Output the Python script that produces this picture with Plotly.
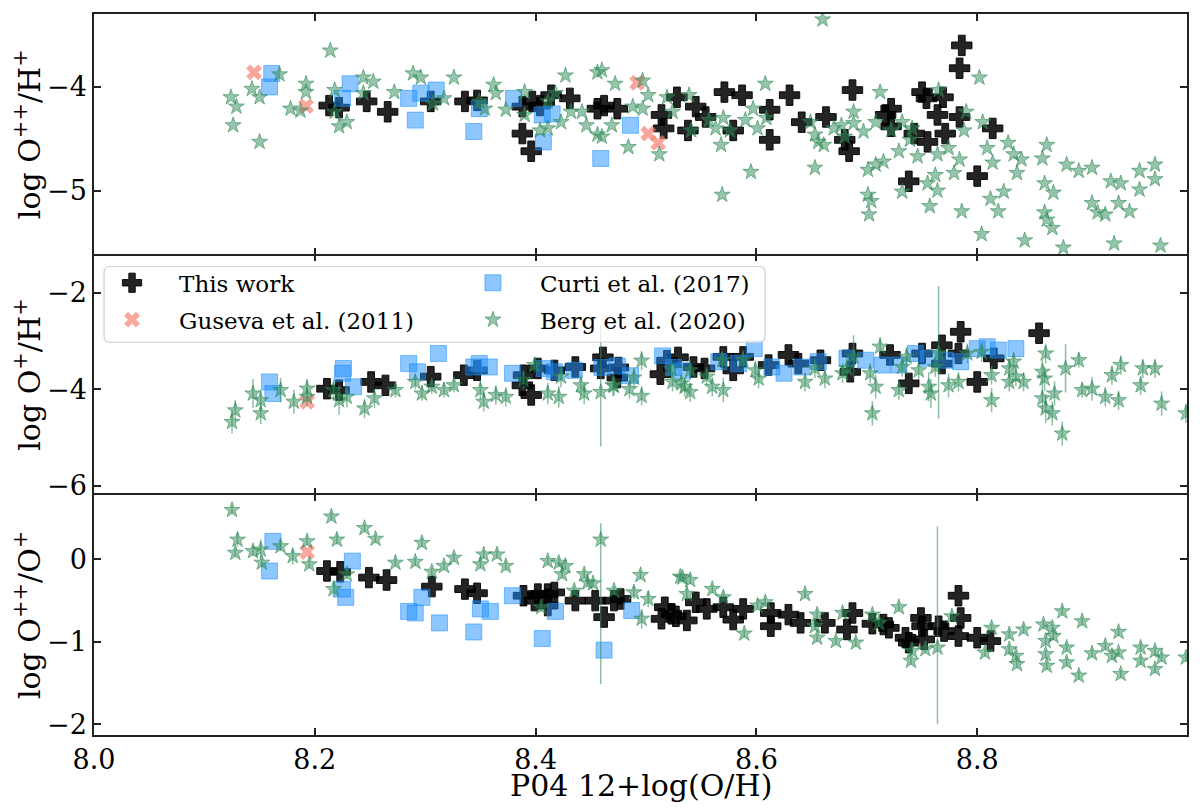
import plotly.graph_objects as go
from plotly.subplots import make_subplots

FONT = "DejaVu Serif, Liberation Serif, serif"

# ---- top panel: log O++/H+ ----
tw_x_top = [8.213, 8.222, 8.247, 8.266, 8.305, 8.336, 8.347, 8.388, 8.397, 8.404, 8.388, 8.396,
            8.414, 8.431, 8.456, 8.462, 8.474, 8.514, 8.516, 8.528, 8.545, 8.554, 8.538, 8.571,
            8.587, 8.579, 8.612, 8.612, 8.630, 8.641, 8.663, 8.680, 8.684, 8.687, 8.722, 8.717,
            8.722, 8.750, 8.754, 8.769, 8.764, 8.771, 8.755, 8.743, 8.738, 8.784, 8.784, 8.786,
            8.800, 8.814]
tw_y_top = [-4.18, -4.20, -4.14, -4.24, -4.14, -4.14, -4.13, -4.19, -4.14, -4.18, -4.45, -4.62,
            -4.08, -4.11, -4.21, -4.18, -4.21, -4.27, -4.40, -4.10, -4.19, -4.29, -4.42, -4.05,
            -4.08, -4.42, -4.22, -4.51, -4.08, -4.34, -4.29, -4.51, -4.62, -4.03, -4.21, -4.27,
            -4.38, -4.05, -4.11, -4.10, -4.27, -4.45, -4.53, -4.45, -4.91, -4.29, -3.82, -3.60,
            -4.86, -4.40]

gu_x_top = [8.145, 8.192, 8.492, 8.502, 8.511]
gu_y_top = [-3.86, -4.185, -3.96, -4.45, -4.54]

cu_x_top = [8.161, 8.159, 8.232, 8.225, 8.285, 8.291, 8.296, 8.310, 8.344, 8.349, 8.380, 8.406,
            8.407, 8.415, 8.459, 8.486]
cu_y_top = [-3.87, -4.00, -3.97, -4.11, -4.11, -4.32, -4.06, -4.03, -4.43, -4.21, -4.11, -4.27,
            -4.53, -4.26, -4.69, -4.37]

be_x_top = [8.124, 8.129, 8.126, 8.143, 8.150, 8.150, 8.168, 8.178, 8.187, 8.192, 8.192, 8.214,
            8.218, 8.218, 8.222, 8.229, 8.244, 8.253, 8.244, 8.272, 8.289, 8.296, 8.307, 8.317,
            8.326, 8.349, 8.354, 8.362, 8.364, 8.373, 8.390, 8.390, 8.404, 8.411, 8.411, 8.418,
            8.423, 8.427, 8.432, 8.442, 8.446, 8.456, 8.456, 8.460, 8.472, 8.460, 8.469, 8.484,
            8.497, 8.502, 8.497, 8.488, 8.512, 8.519, 8.524, 8.539, 8.541, 8.557, 8.563, 8.568,
            8.570, 8.569, 8.576, 8.590, 8.595, 8.597, 8.601, 8.608, 8.609, 8.649, 8.653, 8.653,
            8.660, 8.656, 8.661, 8.670, 8.677, 8.680, 8.688, 8.688, 8.697, 8.701, 8.701, 8.704,
            8.702, 8.708, 8.715, 8.712, 8.708, 8.722, 8.729, 8.732, 8.732, 8.739, 8.741, 8.746,
            8.755, 8.757, 8.762, 8.764, 8.764, 8.765, 8.774, 8.779, 8.784, 8.786, 8.790, 8.788,
            8.802, 8.804, 8.805, 8.809, 8.814, 8.812, 8.819, 8.824, 8.828, 8.833, 8.836, 8.840,
            8.843, 8.859, 8.863, 8.861, 8.861, 8.863, 8.868, 8.869, 8.878, 8.881, 8.892, 8.904,
            8.904, 8.909, 8.916, 8.921, 8.928, 8.930, 8.938, 8.924, 8.947, 8.947, 8.961, 8.961,
            8.966]
be_y_top = [-4.10, -4.19, -4.37, -4.02, -4.10, -4.53, -3.88, -4.21, -4.23, -3.97, -4.05, -3.65,
            -4.03, -4.24, -4.38, -4.34, -3.91, -3.95, -4.06, -4.05, -3.87, -3.91, -4.16, -4.11,
            -3.91, -4.14, -4.21, -3.98, -4.06, -4.22, -4.05, -4.27, -4.42, -4.40, -4.14, -4.06,
            -4.34, -3.89, -4.24, -4.24, -4.37, -3.86, -4.46, -3.84, -3.97, -4.48, -4.37, -4.58,
            -3.94, -4.08, -4.21, -4.19, -4.65, -4.10, -4.24, -4.08, -4.42, -4.32, -4.40, -4.56,
            -4.30, -5.04, -4.42, -4.32, -4.82, -4.21, -4.40, -3.97, -4.30, -4.34, -4.46, -4.78,
            -3.35, -4.53, -4.56, -4.40, -4.37, -4.48, -4.24, -4.35, -4.43, -4.80, -5.04, -5.10,
            -5.23, -4.75, -4.72, -4.05, -4.34, -4.42, -4.62, -4.34, -5.01, -4.51, -4.40, -4.67,
            -4.93, -5.15, -4.85, -5.00, -4.65, -4.03, -4.59, -4.83, -4.70, -5.20, -4.24, -4.42,
            -3.91, -5.42, -4.34, -4.59, -4.73, -5.08, -5.20, -5.01, -4.54, -4.65, -4.83, -4.70,
            -5.48, -4.69, -4.56, -4.93, -5.21, -5.28, -5.36, -5.02, -5.55, -4.75, -4.81, -4.78,
            -5.12, -5.21, -5.23, -4.91, -5.12, -4.93, -5.20, -5.51, -4.81, -4.99, -4.75, -4.89,
            -5.53]

# ---- middle panel: log O+/H+ ----
tw_x_mid = [8.211, 8.222, 8.251, 8.264, 8.305, 8.335, 8.347, 8.389, 8.388, 8.396, 8.402, 8.417,
            8.436, 8.459, 8.461, 8.475, 8.474, 8.513, 8.519, 8.529, 8.543, 8.553, 8.570, 8.579,
            8.588, 8.611, 8.629, 8.638, 8.658, 8.687, 8.685, 8.721, 8.738, 8.750, 8.768, 8.768,
            8.785, 8.783, 8.800, 8.815, 8.856]
tw_y_mid = [-3.99, -4.02, -3.85, -3.92, -3.74, -3.71, -3.61, -3.71, -3.92, -4.12, -3.57, -3.61,
            -3.54, -3.57, -3.34, -3.55, -3.76, -3.69, -3.41, -3.34, -3.54, -3.57, -3.33, -3.61,
            -3.33, -3.50, -3.29, -3.47, -3.40, -3.26, -3.64, -3.29, -3.88, -3.26, -3.09, -3.47,
            -2.81, -3.26, -3.85, -3.36, -2.84]

gu_x_mid = [8.193]
gu_y_mid = [-4.26]

cu_x_mid = [8.159, 8.162, 8.225, 8.226, 8.235, 8.285, 8.293, 8.312, 8.344, 8.349, 8.358, 8.379,
            8.408, 8.417, 8.435, 8.460, 8.474, 8.486, 8.515, 8.525, 8.533, 8.566, 8.584, 8.598,
            8.614, 8.625, 8.641, 8.656, 8.682, 8.699, 8.714, 8.729, 8.744, 8.756, 8.771, 8.785,
            8.800, 8.809, 8.819, 8.835]
cu_y_mid = [-3.85, -4.09, -3.67, -3.57, -3.95, -3.47, -3.64, -3.26, -3.54, -3.47, -3.54, -3.67,
            -3.57, -3.64, -3.61, -3.55, -3.52, -3.72, -3.31, -3.55, -3.62, -3.43, -3.47, -3.16,
            -3.54, -3.67, -3.54, -3.43, -3.36, -3.40, -3.50, -3.50, -3.26, -3.36, -3.40, -3.43,
            -3.16, -3.12, -3.19, -3.16]

be_x_mid = [8.125, 8.128, 8.144, 8.151, 8.151, 8.169, 8.181, 8.193, 8.193, 8.217, 8.222, 8.229,
            8.245, 8.254, 8.273, 8.291, 8.297, 8.306, 8.317, 8.326, 8.350, 8.353, 8.364, 8.373,
            8.389, 8.399, 8.411, 8.421, 8.423, 8.441, 8.444, 8.459, 8.470, 8.471, 8.485, 8.489,
            8.496, 8.496, 8.523, 8.532, 8.524, 8.535, 8.540, 8.540, 8.555, 8.560, 8.570, 8.569,
            8.588, 8.599, 8.602, 8.644, 8.653, 8.662, 8.678, 8.682, 8.688, 8.705, 8.708, 8.703,
            8.712, 8.729, 8.732, 8.736, 8.747, 8.756, 8.758, 8.762, 8.765, 8.774, 8.783, 8.791,
            8.804, 8.813, 8.813, 8.829, 8.829, 8.833, 8.835, 8.842, 8.859, 8.861, 8.862, 8.859,
            8.862, 8.868, 8.870, 8.877, 8.880, 8.892, 8.895, 8.904, 8.916, 8.922, 8.928, 8.930,
            8.948, 8.950, 8.961, 8.967, 8.989]
be_y_mid = [-4.68, -4.44, -4.09, -4.23, -4.50, -4.02, -4.26, -3.99, -4.16, -4.02, -4.23, -4.16,
            -4.40, -4.19, -4.02, -3.85, -4.09, -3.95, -4.02, -3.92, -4.02, -4.26, -4.12, -4.16,
            -3.81, -3.50, -4.09, -4.16, -3.74, -3.92, -4.09, -4.06, -3.92, -3.93, -4.00, -3.76,
            -3.41, -4.14, -3.58, -3.88, -3.85, -3.95, -4.06, -3.61, -3.74, -3.95, -4.02, -3.40,
            -3.40, -3.61, -3.78, -3.85, -3.57, -3.78, -3.67, -3.57, -3.33, -4.50, -3.95, -3.67,
            -3.12, -4.02, -3.54, -3.33, -3.61, -3.95, -4.09, -3.54, -3.26, -3.92, -3.85, -3.26,
            -3.23, -3.71, -4.23, -3.57, -3.85, -3.43, -3.74, -3.85, -3.64, -3.78, -3.26, -4.19,
            -4.40, -4.50, -4.09, -4.92, -3.57, -3.40, -4.02, -3.99, -4.16, -3.71, -4.23, -3.50,
            -3.92, -3.57, -3.57, -4.30, -4.50]
be_err_lo_mid = [0.24, 0.22, 0.30, 0.22, 0.22, 0.25, 0.25, 0.20, 0.20, 0.22, 0.30, 0.22,
                 0.20, 0.20, 0.15, 0.15, 0.15, 0.15, 0.15, 0.15, 0.20, 0.20, 0.20, 0.20,
                 0.20, 0.15, 0.22, 0.22, 0.22, 0.22, 0.22, 1.13, 0.22, 0.20, 0.20, 0.20,
                 0.20, 0.20, 0.20, 0.20, 0.20, 0.20, 0.20, 0.20, 0.20, 0.20, 0.25, 0.20,
                 0.20, 0.20, 0.20, 0.20, 0.20, 0.20, 0.20, 0.25, 0.45, 0.25, 0.25, 0.20,
                 0.20, 0.20, 0.20, 0.20, 0.20, 0.30, 0.30, 0.20, 1.35, 0.25, 0.20, 0.20,
                 0.20, 0.20, 0.25, 0.20, 0.20, 0.20, 0.20, 0.20, 0.25, 0.25, 0.20, 0.30,
                 0.30, 0.25, 0.25, 0.25, 0.50, 0.15, 0.15, 0.25, 0.20, 0.20, 0.20, 0.20,
                 0.20, 0.20, 0.20, 0.25, 0.20]
be_err_hi_mid = [0.24, 0.22, 0.30, 0.22, 0.22, 0.25, 0.25, 0.20, 0.20, 0.22, 0.30, 0.22,
                 0.20, 0.20, 0.15, 0.15, 0.15, 0.15, 0.15, 0.15, 0.20, 0.20, 0.20, 0.20,
                 0.20, 0.15, 0.22, 0.22, 0.22, 0.22, 0.22, 1.37, 0.22, 0.20, 0.20, 0.20,
                 0.20, 0.20, 0.20, 0.20, 0.20, 0.20, 0.20, 0.20, 0.20, 0.20, 0.25, 0.20,
                 0.20, 0.20, 0.20, 0.20, 0.20, 0.20, 0.20, 0.25, 0.45, 0.25, 0.25, 0.20,
                 0.20, 0.20, 0.20, 0.20, 0.20, 0.30, 0.30, 0.20, 1.40, 0.25, 0.20, 0.20,
                 0.20, 0.20, 0.25, 0.20, 0.20, 0.20, 0.20, 0.20, 0.25, 0.25, 0.20, 0.30,
                 0.30, 0.25, 0.25, 0.25, 0.50, 0.15, 0.15, 0.25, 0.20, 0.20, 0.20, 0.20,
                 0.20, 0.20, 0.20, 0.25, 0.20]

# ---- bottom panel: log O++/O+ ----
tw_x_bot = [8.211, 8.223, 8.249, 8.265, 8.306, 8.336, 8.347, 8.389, 8.399, 8.402, 8.411, 8.411,
            8.417, 8.436, 8.454, 8.462, 8.471, 8.477, 8.514, 8.517, 8.523, 8.527, 8.537, 8.545,
            8.555, 8.570, 8.579, 8.588, 8.613, 8.613, 8.629, 8.640, 8.662, 8.682, 8.687, 8.705,
            8.715, 8.720, 8.735, 8.738, 8.749, 8.752, 8.750, 8.765, 8.770, 8.783, 8.785, 8.783,
            8.800, 8.812]
tw_y_bot = [-0.14, -0.15, -0.22, -0.25, -0.33, -0.36, -0.41, -0.44, -0.50, -0.42, -0.42, -0.56,
            -0.40, -0.50, -0.50, -0.70, -0.50, -0.48, -0.72, -0.58, -0.66, -0.69, -0.74, -0.52,
            -0.60, -0.58, -0.73, -0.60, -0.65, -0.81, -0.67, -0.77, -0.77, -0.85, -0.65, -0.78,
            -0.79, -0.83, -0.95, -1.01, -0.71, -0.97, -0.81, -0.81, -0.87, -0.44, -0.71, -0.93,
            -0.95, -0.99]

gu_x_bot = [8.193]
gu_y_bot = [0.09]

cu_x_bot = [8.162, 8.159, 8.234, 8.225, 8.228, 8.297, 8.285, 8.291, 8.313, 8.344, 8.350, 8.359,
            8.379, 8.406, 8.418, 8.462, 8.487]
cu_y_bot = [0.22, -0.14, -0.02, -0.36, -0.46, -0.46, -0.63, -0.65, -0.77, -0.88, -0.60, -0.63,
            -0.44, -0.96, -0.63, -1.10, -0.62]

be_x_bot = [8.125, 8.130, 8.128, 8.144, 8.151, 8.152, 8.169, 8.180, 8.193, 8.195, 8.215, 8.220,
            8.217, 8.229, 8.245, 8.255, 8.273, 8.291, 8.297, 8.306, 8.317, 8.326, 8.350, 8.353,
            8.365, 8.373, 8.405, 8.411, 8.421, 8.424, 8.427, 8.435, 8.444, 8.447, 8.452, 8.459,
            8.471, 8.489, 8.495, 8.496, 8.502, 8.531, 8.533, 8.540, 8.537, 8.560, 8.570, 8.589,
            8.601, 8.608, 8.644, 8.653, 8.655, 8.655, 8.672, 8.678, 8.690, 8.705, 8.711, 8.729,
            8.740, 8.741, 8.753, 8.764, 8.777, 8.807, 8.813, 8.829, 8.829, 8.835, 8.836, 8.842,
            8.860, 8.862, 8.862, 8.863, 8.868, 8.869, 8.877, 8.881, 8.881, 8.892, 8.895, 8.904,
            8.916, 8.922, 8.928, 8.928, 8.930, 8.948, 8.948, 8.961, 8.961, 8.967, 8.989]
be_y_bot = [0.60, 0.24, 0.08, 0.10, 0.12, -0.04, 0.16, 0.04, 0.22, -0.06, 0.52, 0.24,
            -0.36, -0.18, 0.38, 0.25, -0.04, -0.03, 0.20, -0.15, -0.08, 0.02, -0.06, 0.06,
            0.06, -0.08, -0.58, -0.02, -0.04, -0.18, -0.08, -0.38, -0.18, -0.28, -0.29, 0.24,
            -0.38, -0.40, -0.19, -0.72, -0.48, -0.21, -0.22, -0.25, -0.42, -0.36, -0.46, -0.90,
            -0.56, -0.52, -0.42, -0.81, -0.67, -0.95, -0.99, -0.65, -1.01, -0.67, -0.77, -0.58,
            -1.23, -1.11, -1.09, -1.07, -0.69, -1.13, -0.83, -0.91, -1.09, -1.17, -1.27, -0.85,
            -0.79, -0.99, -1.15, -1.29, -0.83, -0.93, -0.63, -1.07, -1.25, -1.41, -0.75, -1.14,
            -1.05, -1.17, -0.88, -1.13, -1.39, -1.07, -1.23, -1.11, -1.33, -1.19, -1.19]
be_err_lo_bot = [0.05, 0.08, 0.05, 0.06, 0.12, 0.05, 0.06, 0.10, 0.05, 0.05, 0.05, 0.06,
                 0.10, 0.06, 0.05, 0.05, 0.05, 0.05, 0.05, 0.05, 0.05, 0.05, 0.05, 0.05,
                 0.05, 0.05, 0.05, 0.05, 0.05, 0.05, 0.05, 0.05, 0.05, 0.05, 0.05, 1.75,
                 0.05, 0.08, 0.05, 0.12, 0.10, 0.05, 0.05, 0.05, 0.08, 0.05, 0.05, 0.05,
                 0.05, 0.05, 0.05, 0.05, 0.05, 0.05, 0.05, 0.05, 0.05, 0.05, 0.05, 0.05,
                 0.05, 0.05, 0.05, 0.93, 0.05, 0.05, 0.05, 0.05, 0.05, 0.05, 0.05, 0.05,
                 0.05, 0.05, 0.05, 0.05, 0.05, 0.05, 0.05, 0.05, 0.05, 0.05, 0.05, 0.05,
                 0.05, 0.05, 0.05, 0.05, 0.05, 0.05, 0.05, 0.05, 0.05, 0.05, 0.05]
be_err_hi_bot = [0.05, 0.08, 0.05, 0.06, 0.12, 0.05, 0.06, 0.10, 0.05, 0.05, 0.05, 0.06,
                 0.10, 0.06, 0.05, 0.05, 0.05, 0.05, 0.05, 0.05, 0.05, 0.05, 0.05, 0.05,
                 0.05, 0.05, 0.05, 0.05, 0.05, 0.05, 0.05, 0.05, 0.05, 0.05, 0.05, 0.20,
                 0.05, 0.08, 0.05, 0.12, 0.10, 0.05, 0.05, 0.05, 0.08, 0.05, 0.05, 0.05,
                 0.05, 0.05, 0.05, 0.05, 0.05, 0.05, 0.05, 0.05, 0.05, 0.05, 0.05, 0.05,
                 0.05, 0.05, 0.05, 1.47, 0.05, 0.05, 0.05, 0.05, 0.05, 0.05, 0.05, 0.05,
                 0.05, 0.05, 0.05, 0.05, 0.05, 0.05, 0.05, 0.05, 0.05, 0.05, 0.05, 0.05,
                 0.05, 0.05, 0.05, 0.05, 0.05, 0.05, 0.05, 0.05, 0.05, 0.05, 0.05]

names = ["This work", "Guseva et al. (2011)", "Curti et al. (2017)", "Berg et al. (2020)"]

# marker styles
TW = dict(symbol="cross", size=17, color="rgba(0,0,0,0.86)",
          line=dict(color="rgba(0,0,0,0.9)", width=1))
GU = dict(symbol="x", size=14, color="rgba(250,128,114,0.7)", line=dict(width=0))
CU = dict(symbol="square", size=16, color="rgba(30,144,255,0.5)",
          line=dict(color="rgba(30,144,255,0.55)", width=1))
BE = dict(symbol="star", size=12, color="rgba(46,139,87,0.5)",
          line=dict(color="rgba(46,139,87,0.6)", width=1))
ECOL = "rgba(46,139,87,0.55)"

fig = make_subplots(rows=3, cols=1, shared_xaxes=True, vertical_spacing=0)


def add(x, y, name, mk, row, legend=None, elo=None, ehi=None):
    err = None
    if elo is not None:
        err = dict(type="data", symmetric=False, array=ehi, arrayminus=elo,
                   color=ECOL, thickness=1.5, width=0)
    fig.add_trace(go.Scatter(x=x, y=y, mode="markers", name=name, marker=mk,
                             error_y=err, legendgroup=name,
                             showlegend=legend is not None,
                             legend=legend or "legend"),
                  row=row, col=1)


add(tw_x_top, tw_y_top, names[0], TW, 1)
add(gu_x_top, gu_y_top, names[1], GU, 1)
add(cu_x_top, cu_y_top, names[2], CU, 1)
add(be_x_top, be_y_top, names[3], BE, 1)

add(tw_x_mid, tw_y_mid, names[0], TW, 2, legend="legend")
add(gu_x_mid, gu_y_mid, names[1], GU, 2, legend="legend")
add(cu_x_mid, cu_y_mid, names[2], CU, 2, legend="legend2")
add(be_x_mid, be_y_mid, names[3], BE, 2, legend="legend2", elo=be_err_lo_mid, ehi=be_err_hi_mid)

add(tw_x_bot, tw_y_bot, names[0], TW, 3)
add(gu_x_bot, gu_y_bot, names[1], GU, 3)
add(cu_x_bot, cu_y_bot, names[2], CU, 3)
add(be_x_bot, be_y_bot, names[3], BE, 3, elo=be_err_lo_bot, ehi=be_err_hi_bot)

axis_style = dict(linecolor="#222", linewidth=1.5, mirror="allticks",
                  ticks="inside", ticklen=7, tickwidth=1.5, tickcolor="#222",
                  showgrid=False, zeroline=False,
                  tickfont=dict(family=FONT, size=27, color="black"))

# middle panel's frame lines are drawn by its neighbours, so no double borders
for r in (1, 2, 3):
    fig.update_xaxes(range=[8.0, 8.99], tick0=8.0, dtick=0.2, tickformat=".1f",
                     showline=(r != 2), row=r, col=1, **axis_style)

ytitle_font = dict(family=FONT, size=30, color="black")
fig.update_yaxes(range=[-5.614, -3.297], dtick=1, row=1, col=1, showline=True,
                 title=dict(text="log O<sup>++</sup>/H<sup>+</sup>", font=ytitle_font, standoff=4),
                 **axis_style)
fig.update_yaxes(range=[-6.186, -1.205], dtick=2, row=2, col=1, showline=True,
                 title=dict(text="log O<sup>+</sup>/H<sup>+</sup>", font=ytitle_font, standoff=4),
                 **axis_style)
fig.update_yaxes(range=[-2.13, 0.786], dtick=1, row=3, col=1, showline=True,
                 title=dict(text="log O<sup>++</sup>/O<sup>+</sup>", font=ytitle_font, standoff=4),
                 **axis_style)

# x-axis title as an annotation so it can sit close to the tick labels, as in the original
fig.add_annotation(text="P04 12+log(O/H)", xref="paper", yref="paper", x=0.5, y=0,
                   xanchor="center", yanchor="middle", yshift=-50, showarrow=False,
                   font=dict(family=FONT, size=30, color="black"))

# legend frame (matplotlib-like rounded box)
x0, x1, y0, y1 = 0.0092, 0.614, 0.5447, 0.6498
rx, ry = 0.0055, 0.0083
frame = (f"M {x0 + rx},{y0} L {x1 - rx},{y0} Q {x1},{y0} {x1},{y0 + ry} "
         f"L {x1},{y1 - ry} Q {x1},{y1} {x1 - rx},{y1} L {x0 + rx},{y1} "
         f"Q {x0},{y1} {x0},{y1 - ry} L {x0},{y0 + ry} Q {x0},{y0} {x0 + rx},{y0} Z")
fig.add_shape(type="path", path=frame, xref="paper", yref="paper", layer="above",
              fillcolor="rgba(255,255,255,0.8)", line=dict(color="#d0d0d0", width=1.2))

leg_common = dict(xanchor="left", yanchor="top", bgcolor="rgba(0,0,0,0)", borderwidth=0,
                  font=dict(family=FONT, size=23, color="black"), itemwidth=84,
                  tracegroupgap=4)

# the page body adds an 8px margin, so the figure is 8px smaller and shifted
fig.update_layout(
    width=1192, height=800,
    margin=dict(l=86, r=13, t=4, b=73),
    paper_bgcolor="white", plot_bgcolor="white",
    font=dict(family=FONT, color="black"),
    legend=dict(x=-0.0082, y=0.657, **leg_common),
    legend2=dict(x=0.322, y=0.657, **leg_common),
)

fig.write_html("out.html")
